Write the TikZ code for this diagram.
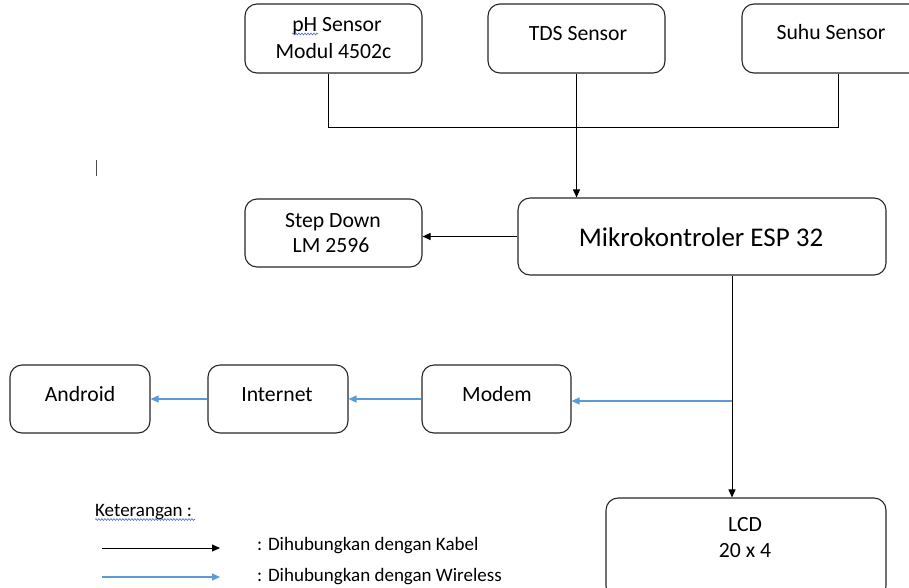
\documentclass[tikz,border=0pt]{standalone}
\usepackage{fontspec}
\setmainfont{Carlito}
\usetikzlibrary{arrows.meta,decorations.pathmorphing}
\definecolor{wblue}{RGB}{91,155,213}
\definecolor{spell}{RGB}{70,110,220}
\begin{document}
\begin{tikzpicture}[x=1pt,y=-1pt,
  box/.style={draw=black!85, rounded corners=12pt, line width=1.1pt, inner sep=0pt},
  cable/.style={line width=1pt, -{Triangle[length=8pt,width=7pt]}},
  plain/.style={line width=1pt},
  wless/.style={draw=wblue, line width=1.3pt, -{Triangle[length=8pt,width=7pt]}},
  txt/.style={font=\fontsize{21.7}{27}\selectfont, inner sep=0pt, anchor=base},
  bigtxt/.style={font=\fontsize{27}{33}\selectfont, inner sep=0pt, anchor=base},
  legtxt/.style={font=\fontsize{19}{24}\selectfont, inner sep=0pt, anchor=base west},
  wavy/.style={draw=spell, line width=0.6pt, decorate, decoration={snake, amplitude=0.9pt, segment length=3pt}},
]
\useasboundingbox (0,0) rectangle (909,587);

% boxes
\node[box, minimum width=177pt, minimum height=69pt] (ph) at (333.5,38.5) {};
\node[box, minimum width=177pt, minimum height=69pt] (tds) at (576.5,38.5) {};
\node[box, minimum width=186pt, minimum height=69pt] (suhu) at (835,38.5) {};
\node[box, minimum width=177pt, minimum height=68pt] (step) at (333.5,233) {};
\node[box, minimum width=368pt, minimum height=77pt] (esp) at (702,236.5) {};
\node[box, minimum width=140pt, minimum height=68pt] (android) at (80,399) {};
\node[box, minimum width=140pt, minimum height=68pt] (internet) at (278,399) {};
\node[box, minimum width=149pt, minimum height=68pt] (modem) at (496.5,399) {};
\node[box, minimum width=280pt, minimum height=100pt] (lcd) at (746,548) {};

% texts
\node[txt] (tph1) at (337,31.5) {pH Sensor};
\node[txt] (tph2) at (333.5,58) {Modul 4502c};
\node[txt] (ttds) at (578,40) {TDS Sensor};
\node[txt] (tsuhu) at (831,39) {Suhu Sensor};
\node[txt] (tstep1) at (333,227) {Step Down};
\node[txt] (tstep2) at (331,252) {LM 2596};
\node[bigtxt] (tesp) at (701,246) {Mikrokontroler ESP 32};
\node[txt] (tand) at (80,401) {Android};
\node[txt] (tint) at (277,401) {Internet};
\node[txt] (tmod) at (497,401) {Modem};
\node[txt] (tlcd1) at (745,531) {LCD};
\node[txt] (tlcd2) at (745,557) {20 x 4};

% spelling marks and cursor
\coordinate (sp1a) at (292,34);
\coordinate (sp1b) at (318,34);
\draw[wavy] (sp1a) -- (sp1b);
\coordinate (cur1) at (96,160);
\coordinate (cur2) at (96,176);
\draw[line width=0.9pt, black!70] (cur1) -- (cur2);

% sensor bus
\coordinate (busL) at (328,127);
\coordinate (busR) at (838,127);
\draw[plain] (ph.south -| busL) -- (busL) -- (busR) -- (suhu.south -| busR);
\draw[cable] (tds.south) -- (tds.south |- esp.north);

% ESP connections
\draw[cable] (esp.west) -- (esp.west -| step.east);
\coordinate (lcdx) at (732,0);
\coordinate (wj) at (732,401);
\draw[cable] (esp.south -| lcdx) -- (lcd.north -| lcdx);
\draw[wless] (wj) -- (modem.east |- wj);
\draw[wless] (modem.west) -- (internet.east);
\draw[wless] (internet.west) -- (android.east);

% legend
\node[legtxt] (ket) at (95,516.5) {Keterangan :};
\coordinate (sp2a) at (95,519.5);
\coordinate (sp2b) at (195,519.5);
\draw[wavy] (sp2a) -- (sp2b);
\coordinate (lk1) at (102,548);
\coordinate (lk2) at (220,548);
\coordinate (lw1) at (102,577);
\coordinate (lw2) at (220,577);
\draw[cable] (lk1) -- (lk2);
\draw[wless] (lw1) -- (lw2);
\node[legtxt] (lkab) at (257,550) {: Dihubungkan dengan Kabel};
\node[legtxt] (lwir) at (257,581.5) {: Dihubungkan dengan Wireless};
\end{tikzpicture}
\end{document}
